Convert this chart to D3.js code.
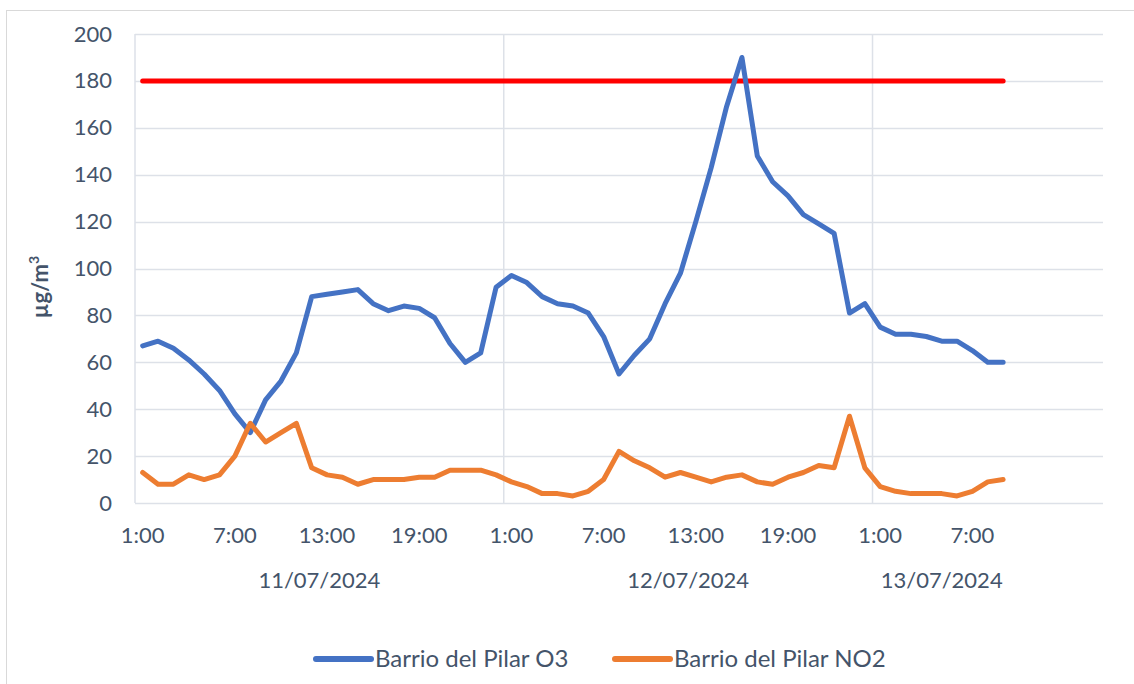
<!DOCTYPE html>
<html>
<head>
<meta charset="utf-8">
<script src="https://cdn.jsdelivr.net/npm/d3@7"></script>
<style>
  body { margin: 0; background: #fff; }
  text { font-family: Lato, "Open Sans", sans-serif; fill: #44546A; }
</style>
</head>
<body>
<script>

// data
const days = ["11/07/2024", "12/07/2024", "13/07/2024"];
const hours_per_day = [24, 24, 9];
const empty_slots = 6; // blank categories at the end of the axis

const o3 = [67, 69, 66, 61, 55, 48, 38, 30, 44, 52, 64, 88, 89, 90, 91, 85, 82, 84, 83, 79, 68, 60, 64, 92,
            97, 94, 88, 85, 84, 81, 71, 55, 63, 70, 85, 98, 120, 143, 169, 190, 148, 137, 131, 123, 119, 115, 81, 85,
            75, 72, 72, 71, 69, 69, 65, 60, 60];
const no2 = [13, 8, 8, 12, 10, 12, 20, 34, 26, 30, 34, 15, 12, 11, 8, 10, 10, 10, 11, 11, 14, 14, 14, 12,
             9, 7, 4, 4, 3, 5, 10, 22, 18, 15, 11, 13, 11, 9, 11, 12, 9, 8, 11, 13, 16, 15, 37, 15,
             7, 5, 4, 4, 4, 3, 5, 9, 10];
const limit_value = 180;

const series_names = ["Barrio del Pilar O3", "Barrio del Pilar NO2"];
const series_colors = ["#4472C4", "#ED7D31"];
const y_ticks = [0, 20, 40, 60, 80, 100, 120, 140, 160, 180, 200];
const tick_every = 6;

// setup
const WIDTH = 1134, HEIGHT = 684;
const plot = {left: 135, right: 1103, top: 34, bottom: 503};
const GRID = "#DDE1E8";
const LINE_WIDTH = 5;

// categories: one per hour, day index kept alongside
let categories = [];
days.forEach((day, d) => {
    for (let h = 1; h <= hours_per_day[d]; h++) {
        categories.push({day: d, label: (h % 24) + ":00"});
    }
});
const n_slots = categories.length + empty_slots;

const svg = d3.select("body").append("svg")
    .attr("width", WIDTH)
    .attr("height", HEIGHT);

// outer chart frame
svg.append("rect")
    .attr("x", 6.5).attr("y", 10.5)
    .attr("width", WIDTH + 20).attr("height", HEIGHT + 20)
    .attr("fill", "none")
    .attr("stroke", "#D9D9D9");

const x = d3.scaleBand()
    .domain(d3.range(n_slots))
    .range([plot.left, plot.right]);
const cx = i => x(i) + x.bandwidth() / 2;

const y = d3.scaleLinear()
    .domain([0, 200])
    .range([plot.bottom, plot.top]);

// horizontal grid
svg.append("g").selectAll("line")
    .data(y_ticks)
    .join("line")
    .attr("x1", plot.left).attr("x2", plot.right)
    .attr("y1", d => Math.round(y(d)) + 0.5).attr("y2", d => Math.round(y(d)) + 0.5)
    .attr("stroke", GRID).attr("stroke-width", 1.5);

// vertical lines: left edge and day boundaries
let day_edges = [0];
hours_per_day.forEach(n => day_edges.push(day_edges[day_edges.length - 1] + n));
svg.append("g").selectAll("line")
    .data(day_edges.slice(0, days.length))
    .join("line")
    .attr("x1", d => x(d)).attr("x2", d => x(d))
    .attr("y1", plot.top).attr("y2", plot.bottom)
    .attr("stroke", GRID).attr("stroke-width", 1.5);

// y axis
const y_axis = svg.append("g")
    .attr("transform", `translate(${plot.left},0)`)
    .call(d3.axisLeft(y).tickValues(y_ticks).tickSize(0).tickPadding(23));
y_axis.select(".domain").remove();
y_axis.selectAll("text")
    .style("font-family", "Lato, sans-serif")
    .style("font-size", "22px")
    .attr("fill", "#44546A");

// y title
const y_title = svg.append("text")
    .attr("transform", "translate(48,287) rotate(-90)")
    .attr("text-anchor", "middle")
    .style("font-size", "22px")
    .style("font-weight", "bold");
y_title.append("tspan").text("µg/m");
y_title.append("tspan").attr("dy", -9).style("font-size", "14px").text("3");

// x hour labels
svg.append("g").selectAll("text")
    .data(categories.filter((c, i) => i % tick_every === 0).map(c => categories.indexOf(c)))
    .join("text")
    .attr("x", i => cx(i))
    .attr("y", 543)
    .attr("text-anchor", "middle")
    .style("font-size", "22px")
    .text(i => categories[i].label);

// x day labels
svg.append("g").selectAll("text")
    .data(days)
    .join("text")
    .attr("x", (d, k) => (x(day_edges[k]) + x(day_edges[k + 1] - 1) + x.bandwidth()) / 2)
    .attr("y", 588)
    .attr("text-anchor", "middle")
    .style("font-size", "22px")
    .text(d => d);

// lines
const line = d3.line()
    .x((d, i) => cx(i))
    .y(d => y(d));

const lines_group = svg.append("g")
    .attr("fill", "none")
    .attr("stroke-width", LINE_WIDTH)
    .attr("stroke-linejoin", "round")
    .attr("stroke-linecap", "round");

lines_group.append("path")
    .attr("d", line(o3.map(() => limit_value)))
    .attr("stroke", "#FF0000");

[o3, no2].forEach((values, k) => {
    lines_group.append("path")
        .attr("d", line(values))
        .attr("stroke", series_colors[k]);
});

// legend
const legend_x = [316, 615];
const legend = svg.append("g").selectAll("g")
    .data(series_names)
    .join("g")
    .attr("transform", (d, k) => `translate(${legend_x[k]},659)`);
legend.append("line")
    .attr("x1", 0).attr("x2", 55)
    .attr("stroke", (d, k) => series_colors[k])
    .attr("stroke-width", 6)
    .attr("stroke-linecap", "round");
legend.append("text")
    .attr("x", 59)
    .attr("dy", "0.35em")
    .style("font-size", "24px")
    .text(d => d);

</script>
</body>
</html>
